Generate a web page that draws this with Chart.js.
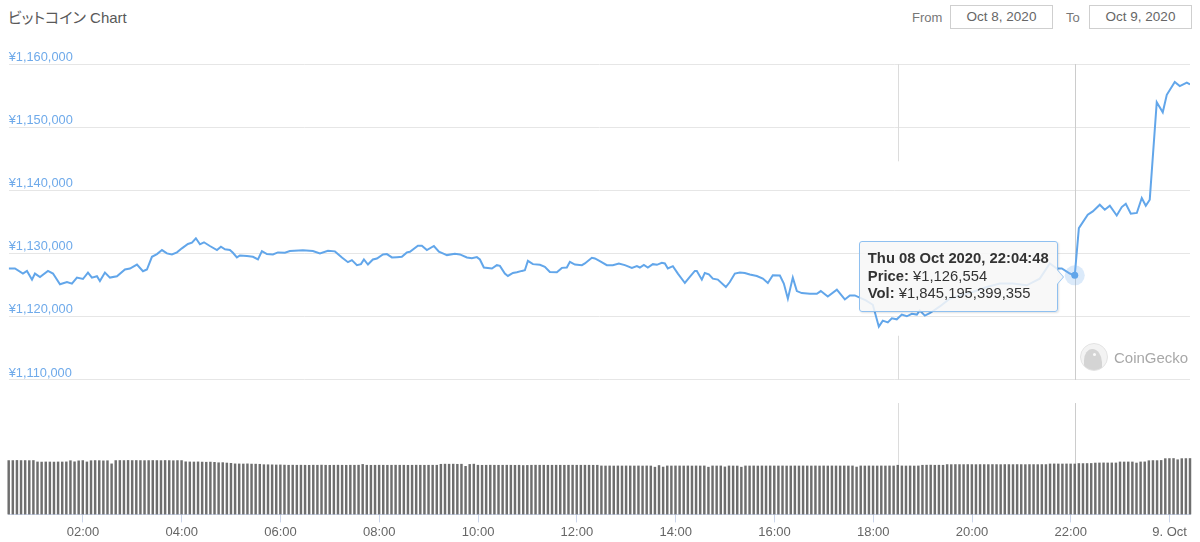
<!DOCTYPE html>
<html>
<head>
<meta charset="utf-8">
<script src="https://cdn.jsdelivr.net/npm/chart.js@4.4.0/dist/chart.umd.min.js"></script>
<style>
  html,body{margin:0;padding:0;background:#fff;}
  body{width:1200px;height:542px;position:relative;overflow:hidden;font-family:'Liberation Sans',Arial,'Noto Sans CJK JP',sans-serif;}
  #title{position:absolute;left:8px;top:9px;font-size:15px;line-height:18px;color:#595959;font-feature-settings:"palt";white-space:nowrap;}
  .lbl{position:absolute;top:9px;font-size:13px;line-height:17px;color:#777;}
  .box{position:absolute;top:5px;width:101px;height:22px;border:1px solid #cfcfcf;font-size:13.5px;line-height:22px;color:#666;text-align:center;}
  canvas{position:absolute;left:0;top:0;}
  #gecko{position:absolute;left:1080px;top:343px;height:28px;display:flex;align-items:center;font-size:15px;color:#a8a8a8;}
  #gecko .logo{width:26px;height:26px;border-radius:50%;border:1.5px solid #e3e3e3;background:#f3f3f3;position:relative;overflow:hidden;margin-right:6px;}
  #gecko .head{position:absolute;left:3px;top:5px;width:18px;height:25px;background:#d4d4d4;border-radius:55% 65% 20% 30%;}
  #gecko .eye{position:absolute;left:12px;top:9px;width:3px;height:3px;border-radius:50%;background:#fafafa;}
  #tip{position:absolute;padding:8px 8px 8px 8px;background:rgba(247,247,247,0.86);border:1px solid #8fc0f0;border-radius:3px;
       font-size:14.8px;line-height:17.5px;color:#333;white-space:nowrap;box-shadow:1px 1px 2px rgba(0,0,0,0.12);}
  #tip b{font-weight:bold;}
  #tip::before{content:'';position:absolute;top:50%;right:-7px;margin-top:-8px;border-style:solid;border-width:8px 0 8px 7px;border-color:transparent transparent transparent #8fc0f0;}
  #tip::after{content:'';position:absolute;top:50%;right:-6px;margin-top:-7px;border-style:solid;border-width:7px 0 7px 6px;border-color:transparent transparent transparent rgb(247,247,247);}
</style>
</head>
<body>
<div id="title">ビットコイン Chart</div>
<span class="lbl" style="left:912px">From</span>
<span class="box" style="left:950px">Oct 8, 2020</span>
<span class="lbl" style="left:1066px">To</span>
<span class="box" style="left:1089px">Oct 9, 2020</span>
<canvas id="c" width="1200" height="542"></canvas>
<div id="gecko"><span class="logo"><span class="head"></span><span class="eye"></span></span>CoinGecko</div>
<div id="tip"></div>
<script>
// ---- data (minutes since 00:00, 8 Oct 2020) ----
const priceMinutes = [
  29.8, 37.4, 47.1, 52.0, 58.1, 61.7, 67.8, 77.5, 83.6, 92.1,
  100.6, 106.6, 112.7, 120.0, 126.1, 130.9, 137.0, 140.6, 146.7, 152.8,
  161.3, 171.0, 177.1, 180.7, 185.6, 192.9, 197.7, 203.8, 209.9, 216.0,
  222.0, 228.1, 234.2, 240.2, 247.5, 252.4, 257.2, 262.1, 267.0, 274.2,
  282.8, 287.6, 292.5, 298.5, 302.2, 307.0, 310.7, 319.2, 326.5, 332.6,
  337.4, 343.5, 350.8, 356.8, 365.3, 371.4, 387.2, 399.3, 407.9, 417.6,
  426.1, 434.6, 441.9, 446.7, 452.8, 457.7, 461.3, 466.2, 472.2, 477.1,
  484.4, 489.2, 495.3, 501.4, 507.4, 513.5, 517.2, 526.9, 531.7, 537.8,
  546.3, 552.4, 557.2, 562.1, 571.8, 577.9, 586.4, 592.5, 598.5, 602.2,
  607.0, 616.8, 622.8, 626.5, 632.5, 636.2, 642.3, 647.1, 653.2, 656.8,
  660.5, 666.6, 675.1, 681.1, 687.2, 695.7, 701.8, 707.8, 711.5, 717.6,
  726.1, 729.7, 738.2, 741.9, 747.9, 756.4, 763.7, 771.0, 778.3, 786.8,
  792.9, 796.5, 801.4, 806.2, 812.3, 817.2, 823.2, 826.9, 830.5, 836.6,
  842.7, 851.2, 857.2, 863.3, 865.7, 871.8, 875.4, 880.3, 885.2, 891.2,
  901.0, 905.8, 911.9, 918.0, 924.0, 930.1, 938.6, 945.9, 952.0, 958.0,
  966.6, 971.4, 976.3, 982.3, 987.2, 993.3, 1003.0, 1011.5, 1016.3, 1024.8,
  1035.8, 1045.5, 1051.6, 1057.6, 1071.0, 1079.5, 1086.8, 1091.6, 1097.7, 1102.6,
  1108.6, 1114.7, 1120.8, 1126.9, 1133.0, 1136.6, 1142.7, 1148.7, 1160.9, 1173.0,
  1185.2, 1201.0, 1218.0, 1233.8, 1249.5, 1266.5, 1282.3, 1294.5, 1303.0, 1309.1,
  1318.8, 1324.8, 1329.8, 1340.6, 1346.7, 1355.2, 1361.3, 1367.4, 1375.8, 1381.9,
  1386.8, 1392.9, 1400.2, 1406.2, 1411.1, 1415.9, 1424.4, 1431.7, 1436.6, 1446.3,
  1452.4, 1460.9, 1464.8
];
const priceValues = [
  1127640, 1127640, 1126840, 1127260, 1125880, 1126840, 1126300, 1127260, 1126840, 1125140,
  1125500, 1125250, 1126200, 1125980, 1127000, 1126200, 1126410, 1125660, 1127000, 1126200,
  1126410, 1127480, 1127640, 1127900, 1128270, 1127210, 1127480, 1129490, 1129920, 1130560,
  1130030, 1129870, 1130190, 1130830, 1131520, 1131720, 1132420, 1131470, 1131790, 1131200,
  1130560, 1131090, 1130670, 1130560, 1130130, 1129390, 1129710, 1129600, 1129490, 1129070,
  1130400, 1129920, 1129870, 1130190, 1130140, 1130400, 1130510, 1130400, 1130030, 1130450,
  1130350, 1129390, 1128640, 1128960, 1128170, 1128330, 1129070, 1128270, 1129070, 1129230,
  1129870, 1129920, 1129390, 1129440, 1129490, 1130190, 1130290, 1131250, 1131250, 1130560,
  1131200, 1130290, 1130030, 1129760, 1129980, 1129870, 1129390, 1129280, 1129440, 1129070,
  1127800, 1127640, 1128170, 1128060, 1126840, 1126460, 1126940, 1127050, 1127260, 1127370,
  1128850, 1128330, 1128220, 1127900, 1127100, 1127050, 1127740, 1127800, 1128700, 1128270,
  1128170, 1128440, 1129330, 1129230, 1128800, 1128170, 1128170, 1128440, 1128170, 1127740,
  1128010, 1127800, 1128220, 1127800, 1128330, 1128220, 1128540, 1128440, 1127640, 1128010,
  1126840, 1125350, 1126300, 1127260, 1127260, 1125880, 1126940, 1126730, 1126040, 1125880,
  1124710, 1125500, 1126840, 1127000, 1126940, 1126680, 1126460, 1126040, 1125350, 1126570,
  1126520, 1125250, 1122860, 1126200, 1124070, 1123750, 1123640, 1123640, 1124070, 1123220,
  1124290, 1122740, 1123380, 1123380, 1122600, 1121900, 1118440, 1119390, 1119120, 1119760,
  1119600, 1120350, 1120080, 1120460, 1120350, 1120990, 1120190, 1120560, 1121640, 1122860,
  1123380, 1123920, 1124710, 1125250, 1125250, 1124980, 1126040, 1128440, 1127640, 1127640,
  1126840, 1126554, 1134020, 1136140, 1136670, 1137730, 1136940, 1137570, 1136030, 1137360,
  1137890, 1136300, 1136430, 1138800, 1137570, 1138530, 1153960, 1152360, 1155120, 1157150,
  1156510, 1157040, 1156760
];
// volume bars: one per 5 minutes from 00:29:48 (values in billions of yen)
const volumeStartMinute = 29.8;
const volumeStepMinutes = 5;
const volumeBillions = [
  1970,1970,1975,1970,1970,1968,1972,1920,1915,1920,1918,1915,
  1920,1918,1922,1965,1925,1960,1970,1920,1965,1970,1968,1960,
  1965,1850,1970,1972,1970,1975,1970,1972,1970,1968,1970,1972,
  1970,1968,1972,1970,1965,1970,1970,1925,1920,1918,1922,1915,
  1910,1915,1905,1890,1895,1880,1870,1850,1848,1845,1850,1842,
  1840,1835,1820,1818,1815,1810,1812,1805,1800,1803,1800,1802,
  1800,1798,1802,1800,1805,1800,1798,1800,1802,1800,1799,1801,
  1800,1802,1830,1800,1798,1800,1801,1800,1799,1800,1802,1800,
  1800,1798,1800,1802,1800,1799,1800,1801,1800,1835,1840,1838,
  1840,1835,1838,1760,1830,1840,1800,1798,1800,1802,1800,1799,
  1800,1801,1800,1798,1800,1790,1795,1800,1802,1800,1800,1799,
  1800,1801,1800,1799,1800,1802,1800,1800,1801,1800,1799,1800,
  1775,1773,1775,1772,1775,1773,1775,1774,1773,1775,1772,1775,
  1773,1730,1790,1735,1775,1773,1775,1774,1773,1775,1772,1775,
  1773,1775,1730,1775,1773,1775,1740,1775,1773,1772,1730,1775,
  1773,1775,1772,1775,1773,1775,1774,1773,1775,1772,1773,1775,
  1773,1775,1774,1773,1775,1772,1775,1773,1775,1774,1773,1775,
  1773,1775,1735,1775,1773,1775,1774,1773,1775,1773,1775,1773,
  1800,1775,1773,1775,1772,1775,1800,1803,1805,1800,1802,1800,
  1824,1822,1825,1824,1823,1825,1824,1822,1825,1824,1823,1825,
  1824,1822,1825,1824,1823,1825,1824,1822,1825,1824,1823,1825,
  1824,1846,1848,1846,1845,1847,1846,1845.195399355,1862,1860,1862,1865,
  1880,1883,1885,1883,1884,1883,1920,1918,1920,1919,1880,1920,
  1922,1965,1970,1968,1975,2040,2043,2045,2000,2040,2043,2045
];
const priceTicks = [1110000, 1120000, 1130000, 1140000, 1150000, 1160000];
const xTickMinutes = [120, 240, 360, 480, 600, 720, 840, 960, 1080, 1200, 1320, 1440];
const xTickLabels = ['02:00','04:00','06:00','08:00','10:00','12:00','14:00','16:00','18:00','20:00','22:00','9. Oct'];
const volumeAxisMax = 4050;          // billions
const activeMinute = 1324.8;         // hovered sample (22:04:48)
const ghostMinute = 1109.8;          // faint leftover crosshair
const ghostPriceTop = 1144600, ghostPriceBottom = 1117000;
const baseDate = Date.UTC(2020, 9, 8);

// ---- build ----
const pricePoints = priceMinutes.map((m, i) => ({x: m, y: priceValues[i]}));
const volumePoints = volumeBillions.map((v, k) => ({x: volumeStartMinute + volumeStepMinutes * k, y: v}));
const activePriceIdx = priceMinutes.indexOf(activeMinute);
const activeVolIdx = volumePoints.findIndex(p => Math.abs(p.x - activeMinute) < 0.01);
const ghostVolIdx = volumePoints.findIndex(p => Math.abs(p.x - ghostMinute) < 0.01);

const FONT = "'Liberation Sans', Arial, sans-serif";
Chart.defaults.font.family = FONT;

function fmtTitle(min) {
  const d = new Date(baseDate + Math.round(min * 60) * 1000);
  const days = ['Sun','Mon','Tue','Wed','Thu','Fri','Sat'];
  const months = ['Jan','Feb','Mar','Apr','May','Jun','Jul','Aug','Sep','Oct','Nov','Dec'];
  const p = n => String(n).padStart(2, '0');
  return days[d.getUTCDay()] + ' ' + p(d.getUTCDate()) + ' ' + months[d.getUTCMonth()] + ' ' + d.getUTCFullYear() +
    ', ' + p(d.getUTCHours()) + ':' + p(d.getUTCMinutes()) + ':' + p(d.getUTCSeconds());
}

const tip = document.getElementById('tip');
tip.innerHTML = '<b>' + fmtTitle(activeMinute) + '</b><br><b>Price:</b> ¥' +
  priceValues[activePriceIdx].toLocaleString('en-US') + '<br><b>Vol:</b> ¥' +
  Math.round(volumeBillions[activeVolIdx] * 1e9).toLocaleString('en-US');

const hoverPlugin = {
  id: 'hoverDeco',
  beforeDatasetsDraw(chart) {
    const {ctx, scales: {x, y, yVol}} = chart;
    const vline = (px, a, b, col) => {
      ctx.beginPath(); ctx.strokeStyle = col; ctx.lineWidth = 1;
      ctx.moveTo(px, a); ctx.lineTo(px, b); ctx.stroke();
    };
    ctx.save();
    const gx = Math.round(x.getPixelForValue(ghostMinute)) + 0.5;
    vline(gx, y.top, y.getPixelForValue(ghostPriceTop), '#dcdcdc');
    vline(gx, y.getPixelForValue(ghostPriceBottom), y.bottom, '#dcdcdc');
    vline(gx, yVol.top, yVol.getPixelForValue(volumeBillions[ghostVolIdx]), '#dcdcdc');
    const hx = Math.round(x.getPixelForValue(activeMinute)) + 0.5;
    vline(hx, y.top, y.bottom, '#cccccc');
    vline(hx, yVol.top, yVol.bottom, '#cccccc');
    ctx.restore();
  },
  afterDatasetsDraw(chart) {
    const {ctx} = chart;
    const pt = chart.getDatasetMeta(0).data[activePriceIdx];
    ctx.save();
    ctx.beginPath(); ctx.arc(pt.x, pt.y, 10, 0, Math.PI * 2);
    ctx.fillStyle = 'rgba(124,181,236,0.28)'; ctx.fill();
    ctx.beginPath(); ctx.arc(pt.x, pt.y, 3.5, 0, Math.PI * 2);
    ctx.fillStyle = '#62a6ea'; ctx.fill();
    ctx.restore();
    tip.style.right = (1200 - (pt.x - 17)) + 'px';
    tip.style.top = (pt.y - 34) + 'px';
  }
};

new Chart(document.getElementById('c'), {
  data: {
    datasets: [
      {
        type: 'line', data: pricePoints, yAxisID: 'y', xAxisID: 'x',
        borderColor: '#62a6ea', borderWidth: 2, pointRadius: 0, tension: 0, fill: false, order: 1
      },
      {
        type: 'bar', data: volumePoints, yAxisID: 'yVol', xAxisID: 'x',
        backgroundColor: '#6e6e6e', barPercentage: 0.6, categoryPercentage: 1, clip: false, order: 2
      }
    ]
  },
  options: {
    responsive: false, animation: false, events: [],
    layout: {padding: {top: 64, left: 8.7, right: 10, bottom: 0}},
    plugins: {legend: {display: false}, tooltip: {enabled: false}},
    scales: {
      x: {
        type: 'linear', position: 'bottom', offset: false,
        min: priceMinutes[0], max: priceMinutes[priceMinutes.length - 1],
        afterBuildTicks: s => { s.ticks = xTickMinutes.map(v => ({value: v})); },
        grid: {drawOnChartArea: false, drawTicks: true, tickLength: 8, color: '#ccd6eb', offset: false},
        border: {display: true, color: '#ccd6eb'},
        ticks: {
          autoSkip: false, maxRotation: 0, padding: 2, color: '#666', font: {size: 13},
          callback: v => xTickLabels[xTickMinutes.indexOf(v)]
        }
      },
      y: {
        type: 'linear', position: 'left', stack: 'panes', stackWeight: 315, weight: 3,
        min: priceTicks[0], max: priceTicks[priceTicks.length - 1],
        afterBuildTicks: s => { s.ticks = priceTicks.map(v => ({value: v})); },
        grid: {color: '#e6e6e6', drawTicks: false, lineWidth: 1},
        border: {display: false},
        ticks: {
          mirror: true, padding: 0, labelOffset: -7, color: '#6faaea', font: {size: 12.8},
          callback: v => '¥' + v.toLocaleString('en-US')
        }
      },
      ySpacer: {
        type: 'linear', position: 'left', stack: 'panes', stackWeight: 23, weight: 2,
        grid: {display: false, drawTicks: false}, border: {display: false}, ticks: {display: false}
      },
      yVol: {
        type: 'linear', position: 'left', stack: 'panes', stackWeight: 111, weight: 1,
        min: 0, max: volumeAxisMax,
        grid: {display: false, drawTicks: false}, border: {display: false}, ticks: {display: false}
      }
    }
  },
  plugins: [hoverPlugin]
});
</script>
</body>
</html>
